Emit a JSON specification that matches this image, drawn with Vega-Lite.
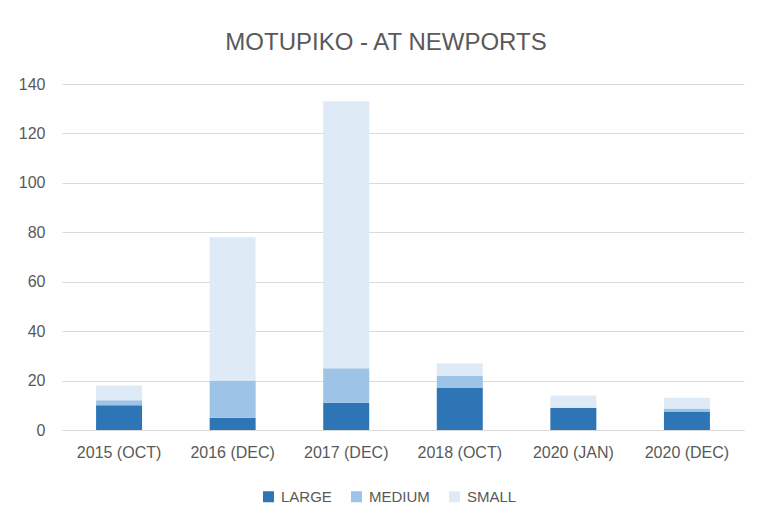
{
  "$schema": "https://vega.github.io/schema/vega-lite/v6.json",
  "autosize": "none",
  "padding": {"left": 62, "top": 84, "right": 21, "bottom": 98},
  "width": 682,
  "height": 346,
  "background": "white",
  "title": {
    "text": "MOTUPIKO - AT NEWPORTS",
    "font": "Liberation Sans",
    "fontSize": 24,
    "fontWeight": "normal",
    "color": "#595959",
    "anchor": "middle",
    "dx": -17,
    "offset": 21
  },
  "data": {
    "values": [
      {"survey": "2015 (OCT)", "size": "LARGE", "rank": 1, "count": 10},
      {"survey": "2015 (OCT)", "size": "MEDIUM", "rank": 2, "count": 2},
      {"survey": "2015 (OCT)", "size": "SMALL", "rank": 3, "count": 6},
      {"survey": "2016 (DEC)", "size": "LARGE", "rank": 1, "count": 5},
      {"survey": "2016 (DEC)", "size": "MEDIUM", "rank": 2, "count": 15},
      {"survey": "2016 (DEC)", "size": "SMALL", "rank": 3, "count": 58},
      {"survey": "2017 (DEC)", "size": "LARGE", "rank": 1, "count": 11},
      {"survey": "2017 (DEC)", "size": "MEDIUM", "rank": 2, "count": 14},
      {"survey": "2017 (DEC)", "size": "SMALL", "rank": 3, "count": 108},
      {"survey": "2018 (OCT)", "size": "LARGE", "rank": 1, "count": 17},
      {"survey": "2018 (OCT)", "size": "MEDIUM", "rank": 2, "count": 5},
      {"survey": "2018 (OCT)", "size": "SMALL", "rank": 3, "count": 5},
      {"survey": "2020 (JAN)", "size": "LARGE", "rank": 1, "count": 9},
      {"survey": "2020 (JAN)", "size": "MEDIUM", "rank": 2, "count": 0},
      {"survey": "2020 (JAN)", "size": "SMALL", "rank": 3, "count": 5},
      {"survey": "2020 (DEC)", "size": "LARGE", "rank": 1, "count": 7.5},
      {"survey": "2020 (DEC)", "size": "MEDIUM", "rank": 2, "count": 1.2},
      {"survey": "2020 (DEC)", "size": "SMALL", "rank": 3, "count": 4.3}
    ]
  },
  "mark": {"type": "bar"},
  "encoding": {
    "x": {
      "field": "survey",
      "type": "nominal",
      "sort": null,
      "title": null,
      "scale": {"paddingInner": 0.595, "paddingOuter": 0.3},
      "axis": {
        "labelAngle": 0,
        "labelFont": "Liberation Sans",
        "labelFontSize": 16,
        "labelColor": "#595959",
        "ticks": false,
        "labelPadding": 14,
        "domainColor": "#D9D9D9",
        "domainWidth": 1
      }
    },
    "y": {
      "field": "count",
      "type": "quantitative",
      "stack": "zero",
      "title": null,
      "scale": {"domain": [0, 140], "nice": false},
      "axis": {
        "values": [0, 20, 40, 60, 80, 100, 120, 140],
        "labelFont": "Liberation Sans",
        "labelFontSize": 16,
        "labelColor": "#595959",
        "ticks": false,
        "labelPadding": 17,
        "domain": false,
        "gridColor": "#D9D9D9",
        "gridWidth": 1
      }
    },
    "color": {
      "field": "size",
      "type": "nominal",
      "sort": ["LARGE", "MEDIUM", "SMALL"],
      "scale": {"domain": ["LARGE", "MEDIUM", "SMALL"], "range": ["#2E75B6", "#9DC3E6", "#DEEBF7"]},
      "legend": {
        "title": null,
        "orient": "none",
        "legendX": 199,
        "legendY": 405,
        "direction": "horizontal",
        "symbolType": "square",
        "symbolSize": 121,
        "symbolStrokeWidth": 0,
        "labelFont": "Liberation Sans",
        "labelFontSize": 15,
        "labelColor": "#595959",
        "labelOffset": 5,
        "columnPadding": 17
      }
    },
    "order": {"field": "rank", "type": "quantitative"}
  },
  "config": {"view": {"stroke": null}}
}
